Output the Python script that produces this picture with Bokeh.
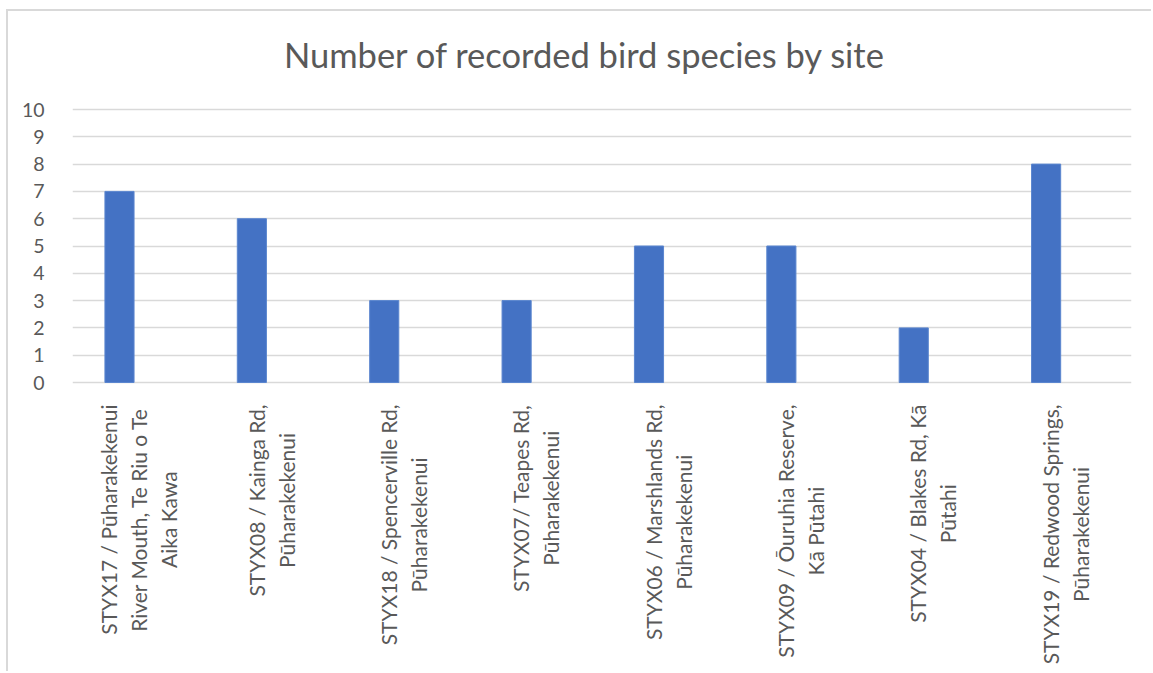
import math
from bokeh.plotting import figure
from bokeh.models import ColumnDataSource, FixedTicker, Label, Range1d
from bokeh.transform import dodge
from bokeh.embed import file_html
from bokeh.resources import INLINE

title_text = "Number of recorded bird species by site"
sites = [
    "STYX17 / Pūharakekenui\nRiver Mouth, Te Riu o Te\nAika Kawa",
    "STYX08 / Kainga Rd,\nPūharakekenui",
    "STYX18 / Spencerville Rd,\nPūharakekenui",
    "STYX07/ Teapes Rd,\nPūharakekenui",
    "STYX06 / Marshlands Rd,\nPūharakekenui",
    "STYX09 / Ōuruhia Reserve,\nKā Pūtahi",
    "STYX04 / Blakes Rd, Kā\nPūtahi",
    "STYX19 / Redwood Springs,\nPūharakekenui",
]
species = [7, 6, 3, 3, 5, 5, 2, 8]
y_ticks = [0, 1, 2, 3, 4, 5, 6, 7, 8, 9, 10]

FONT = "Lato"
GREY = "#595959"

# layout (pixels): the frame fills the whole canvas height; the value axis 0..10
# occupies the middle band, title above and category labels below it
W, H = 1145, 662
LEFT, RIGHT = 64, 22
PAD_TOP, PAD_BOTTOM = 98, 291
px_per_unit = (H - PAD_TOP - PAD_BOTTOM) / 10
y_top = 10 + PAD_TOP / px_per_unit
y_bottom = -PAD_BOTTOM / px_per_unit

source = ColumnDataSource(data=dict(site=sites, species=species))

p = figure(
    x_range=sites, y_range=Range1d(y_bottom, y_top),
    width=W, height=H,
    output_backend="svg", toolbar_location=None,
    min_border_left=LEFT, min_border_right=RIGHT, min_border_top=0, min_border_bottom=0,
)
p.styles = {
    "margin-left": "6px", "margin-top": "9px",
    "border-left": "2px solid #D9D9D9", "border-top": "2px solid #D9D9D9",
}

p.vbar(x=dodge("site", -0.145, range=p.x_range), top="species", bottom=0, width=0.22,
       source=source, fill_color="#4472C4", line_color="#5B86CF", line_width=1)

p.outline_line_color = None
p.background_fill_color = "white"
p.border_fill_color = "white"

p.xgrid.grid_line_color = None
p.ygrid.grid_line_color = "#D9D9D9"
p.ygrid.grid_line_width = 1.5
p.ygrid.ticker = FixedTicker(ticks=y_ticks)

p.yaxis.ticker = FixedTicker(ticks=y_ticks)
p.yaxis.axis_line_color = None
p.yaxis.major_tick_line_color = None
p.yaxis.minor_tick_line_color = None
p.yaxis.major_label_text_font = FONT
p.yaxis.major_label_text_font_size = "19.5px"
p.yaxis.major_label_text_color = GREY
p.yaxis.major_label_standoff = 22

p.xaxis.visible = False

# chart title
p.add_layout(Label(
    x=len(sites) / 2, y=10, x_offset=-17, y_offset=55, text=title_text,
    text_align="center", text_baseline="alphabetic",
    text_font=FONT, text_font_size="34.5px", text_color=GREY,
))

# category labels: rotated, multi-line, lines centred (as in the original);
# x is the categorical range's own coordinate for each factor's centre
for i, s in enumerate(sites):
    p.add_layout(Label(
        x=i + 0.5, y=0, y_offset=-22, text=s, angle=math.pi / 2,
        anchor="center_right", text_align="center",
        text_font=FONT, text_font_size="21px", text_color=GREY,
        text_line_height=1.2,
    ))

open("out.html", "w").write(file_html(p, INLINE))
